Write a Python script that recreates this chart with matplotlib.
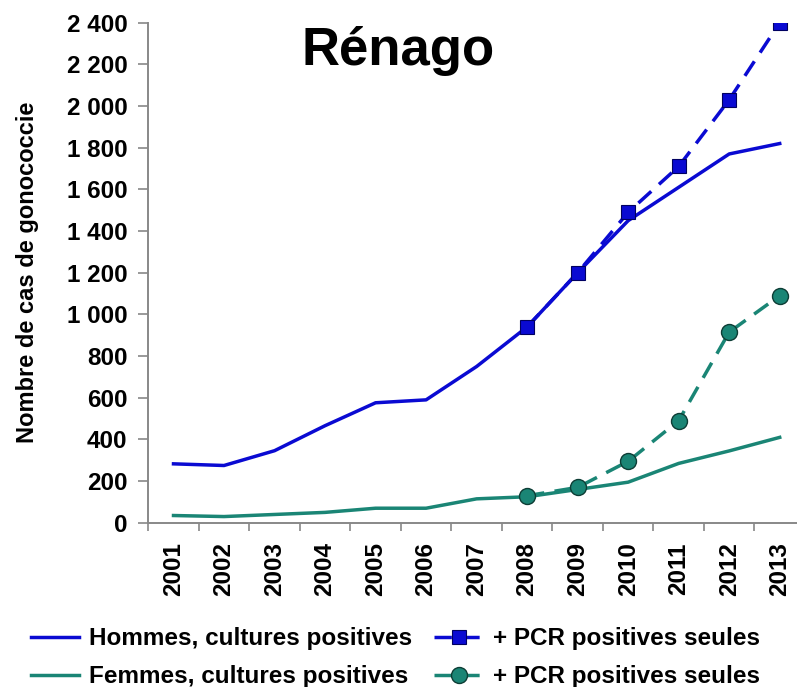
import numpy as np
import matplotlib.pyplot as plt

plt.rcParams['font.family'] = ['Liberation Sans', 'DejaVu Sans']
plt.rcParams['font.weight'] = 'bold'

# data
years = ['2001', '2002', '2003', '2004', '2005', '2006', '2007',
         '2008', '2009', '2010', '2011', '2012', '2013']
hommes_cult = [283, 275, 346, 466, 576, 590, 750, 940, 1200, 1450, 1610, 1770, 1820]
hommes_pcr = [940, 1200, 1490, 1710, 2030, 2400]
femmes_cult = [35, 30, 40, 50, 70, 70, 115, 125, 160, 195, 285, 345, 410]
femmes_pcr = [130, 170, 295, 490, 915, 1090]

blue = '#0a0ad2'
teal = '#1a8575'

fig = plt.figure(figsize=(7.97, 6.87), dpi=100)
ax = fig.add_axes([0.186, 0.239, 0.824, 0.728])

x = np.arange(1, len(years) + 1)
xp = x[7:]

h1, = ax.plot(x, hommes_cult, color=blue, lw=2.5)
f1, = ax.plot(x, femmes_cult, color=teal, lw=2.5)
h2, = ax.plot(xp, hommes_pcr, color=blue, lw=2.5, ls=(0, (5, 3)),
              marker='s', ms=10.5, mfc=blue, mec='#000060', mew=0.8)
f2, = ax.plot(xp, femmes_pcr, color=teal, lw=2.5, ls=(0, (5, 3)),
              marker='o', ms=11.5, mfc=teal, mec='#0d3d35', mew=1.0)

ax.set_xlim(0.5, len(years) + 0.5)
ax.set_ylim(0, 2400)
ax.set_yticks(np.arange(0, 2401, 200))
ax.set_yticklabels([f'{v:,}'.replace(',', ' ') for v in range(0, 2401, 200)],
                   fontsize=17.5, fontweight='bold')
ax.set_xticks(x)
ax.set_xticklabels(years, rotation=90, fontsize=17.5, fontweight='bold')
ax.set_xticks(np.arange(0.5, len(years) + 1, 1), minor=True)
ax.tick_params(axis='x', which='major', length=0, pad=14)
ax.tick_params(axis='x', which='minor', length=6, color='#888888', width=1.2)
ax.tick_params(axis='y', length=7, color='#888888', width=1.2, pad=8)

for s in ['top', 'right']:
    ax.spines[s].set_visible(False)
for s in ['left', 'bottom']:
    ax.spines[s].set_color('#888888')
    ax.spines[s].set_linewidth(1.4)

ax.set_ylabel('Nombre de cas de gonococcie', fontsize=17, fontweight='bold')
ax.yaxis.set_label_coords(-0.166, 0.5)

fig.text(0.5, 0.905, 'Rénago', fontsize=38, fontweight='bold', ha='center', va='baseline')

fig.legend([h1, f1, h2, f2],
           ['Hommes, cultures positives', 'Femmes, cultures positives',
            '+ PCR positives seules', '+ PCR positives seules'],
           ncol=2, loc='lower left', bbox_to_anchor=(0.011, -0.034),
           frameon=False, prop={'size': 17.5, 'weight': 'bold'},
           handlelength=2.0, columnspacing=0.9, labelspacing=0.62, handletextpad=0.42)

fig.savefig('out.png', dpi=100)
